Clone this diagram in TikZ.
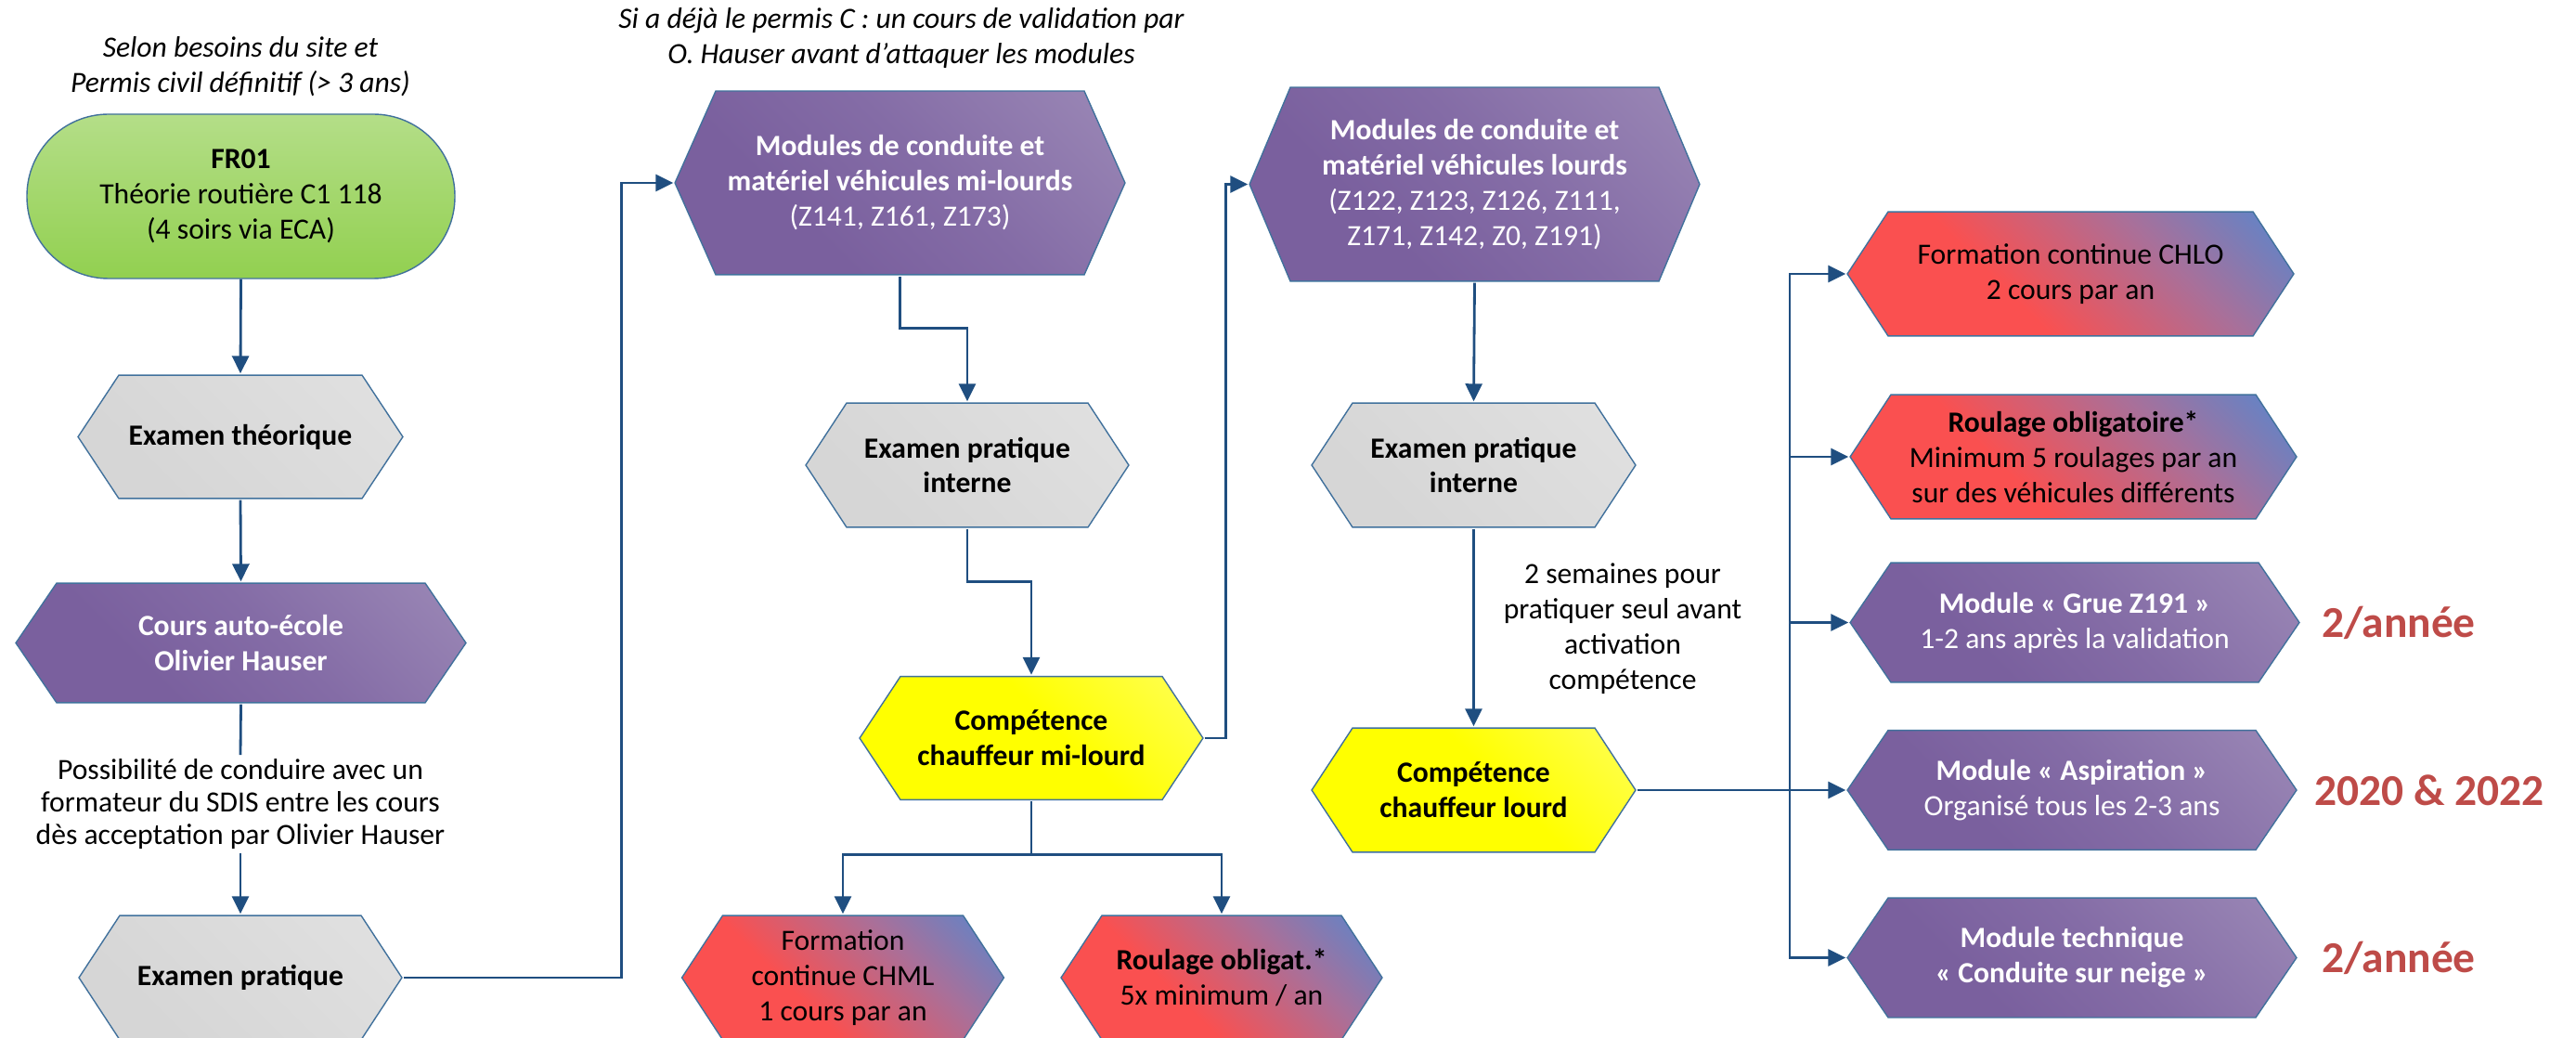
\documentclass[tikz,border=0pt]{standalone}
\usepackage{fontspec}
\setmainfont{Carlito}
\usepackage{tikz}
\usepackage{xcolor}
\usetikzlibrary{arrows.meta, positioning, calc}

\definecolor{linkblue}{HTML}{1F4E80}
\definecolor{edgeblue}{HTML}{41719C}
\definecolor{purL}{HTML}{9B88B6}
\definecolor{purM}{HTML}{846CA6}
\definecolor{purD}{HTML}{7A609E}
\definecolor{rbR}{HTML}{FA5050}
\definecolor{rbM}{HTML}{A8709A}
\definecolor{rbB}{HTML}{5A86CC}
\definecolor{grnT}{HTML}{B4DE88}
\definecolor{grnB}{HTML}{92D050}
\definecolor{yelL}{HTML}{FFFF66}
\definecolor{exgrayL}{HTML}{E0E0E0}
\definecolor{exgray}{HTML}{D6D6D6}
\definecolor{freqred}{HTML}{BE4B48}

\pgfdeclareverticalshading{purpgrad}{100bp}{color(0bp)=(purD); color(35bp)=(purD); color(55bp)=(purM); color(85bp)=(purL); color(100bp)=(purL)}
\pgfdeclareverticalshading{redblue}{100bp}{color(0bp)=(rbR); color(40bp)=(rbR); color(64bp)=(rbM); color(84bp)=(rbB); color(100bp)=(rbB)}
\pgfdeclareverticalshading{yelgrad}{100bp}{color(0bp)=(yellow); color(55bp)=(yellow); color(90bp)=(yelL); color(100bp)=(yelL)}
\pgfdeclareverticalshading{graygrad}{100bp}{color(0bp)=(exgray); color(30bp)=(exgray); color(80bp)=(exgrayL); color(100bp)=(exgrayL)}

\begin{document}
\begin{tikzpicture}[
    txt/.style={font=\fontsize{9}{10.8}\selectfont, align=center},
    notetxt/.style={align=center, font=\fontsize{9}{10.8}\selectfont\itshape},
    freqtxt/.style={anchor=base, text=freqred, font=\fontsize{13.5}{16}\selectfont\bfseries},
    hexfill/.style={},
    hexa/.style={txt, rectangle, inner sep=0pt, minimum height=1.36cm,
      path picture={
        \path[hexfill, draw=edgeblue, line width=0.4pt]
          ([xshift=0.3pt]path picture bounding box.west)
          -- ([xshift=0.45cm,yshift=-0.3pt]path picture bounding box.north west)
          -- ([xshift=-0.45cm,yshift=-0.3pt]path picture bounding box.north east)
          -- ([xshift=-0.3pt]path picture bounding box.east)
          -- ([xshift=-0.45cm,yshift=0.3pt]path picture bounding box.south east)
          -- ([xshift=0.45cm,yshift=0.3pt]path picture bounding box.south west)
          -- cycle;}},
    examhex/.style={hexa, hexfill/.style={shade, shading=graygrad, shading angle=-45}},
    coursehex/.style={hexa, text=white, hexfill/.style={shade, shading=purpgrad, shading angle=-45}},
    comphex/.style={hexa, hexfill/.style={shade, shading=yelgrad, shading angle=-45}},
    contihex/.style={hexa, hexfill/.style={shade, shading=redblue, shading angle=-45}},
    startbox/.style={txt, rectangle, rounded corners=0.88cm, draw=edgeblue, line width=0.4pt,
      top color=grnT, bottom color=grnB, minimum width=4.61cm, minimum height=1.77cm, inner sep=0pt},
    wire/.style={draw=linkblue, line width=0.8pt},
    link/.style={wire, -{Triangle[length=0.19cm, width=0.18cm]}}
  ]
  \useasboundingbox (0,0) rectangle (27.75,-11.18);

  % theorie et auto-ecole
  \node[notetxt] (note1) at (2.59,-0.72) {Selon besoins du site et\\Permis civil définitif (> 3 ans)};
  \node[startbox] (fr01) at (2.595,-2.115) {\textbf{FR01}\\Théorie routière C1 118\\(4 soirs via ECA)};
  \node[examhex, minimum width=3.52cm, minimum height=1.35cm] (exth) at (2.59,-4.705) {\textbf{Examen théorique}};
  \node[coursehex, minimum width=4.87cm, minimum height=1.31cm] (cours) at (2.595,-6.925) {\textbf{Cours auto-école}\\\textbf{Olivier Hauser}};
  \node[txt, font=\fontsize{9}{10}\selectfont, inner sep=1pt] (possib) at (2.59,-8.66) {Possibilité de conduire avec un\\formateur du SDIS entre les cours\\dès acceptation par Olivier Hauser};
  \node[examhex, minimum width=3.5cm] (expr) at (2.59,-10.53) {\textbf{Examen pratique}};

  % mi-lourd
  \node[notetxt] (note2) at (9.71,-0.415) {Si a déjà le permis C : un cours de validation par\\O. Hauser avant d’attaquer les modules};
  \node[coursehex, minimum width=4.87cm, minimum height=2cm] (modml) at (9.695,-1.97) {\textbf{Modules de conduite et}\\\textbf{matériel véhicules mi-lourds}\\(Z141, Z161, Z173)};
  \node[examhex, minimum width=3.5cm] (exi1) at (10.42,-5.01) {\textbf{Examen pratique}\\\textbf{interne}};
  \node[comphex, minimum width=3.72cm, minimum height=1.35cm] (compml) at (11.11,-7.95) {\textbf{Compétence}\\\textbf{chauffeur mi-lourd}};
  \node[contihex, minimum width=3.49cm] (fcml) at (9.08,-10.53) {Formation\\continue CHML\\1 cours par an};
  \node[contihex, minimum width=3.48cm] (roml) at (13.16,-10.53) {\textbf{Roulage obligat.*}\\5x minimum / an};

  % lourd
  \node[coursehex, minimum width=4.87cm, minimum height=2.11cm] (modl) at (15.885,-1.985) {\textbf{Modules de conduite et}\\\textbf{matériel véhicules lourds}\\(Z122, Z123, Z126, Z111,\\Z171, Z142, Z0, Z191)};
  \node[examhex, minimum width=3.51cm] (exi2) at (15.875,-5.01) {\textbf{Examen pratique}\\\textbf{interne}};
  \node[txt] (delai) at (17.48,-6.775) {2 semaines pour\\pratiquer seul avant\\activation\\compétence};
  \node[comphex, minimum width=3.51cm] (compl) at (15.875,-8.51) {\textbf{Compétence}\\\textbf{chauffeur lourd}};

  % formation continue
  \node[contihex, minimum width=4.83cm] (fchlo) at (22.305,-2.95) {Formation continue CHLO\\2 cours par an};
  \node[contihex, minimum width=4.83cm] (rolo) at (22.335,-4.92) {\textbf{Roulage obligatoire*}\\Minimum 5 roulages par an\\sur des véhicules différents};
  \node[coursehex, minimum width=4.86cm, minimum height=1.31cm] (grue) at (22.35,-6.705) {\textbf{Module «~Grue Z191~»}\\1-2 ans après la validation};
  \node[coursehex, minimum width=4.86cm, minimum height=1.31cm] (aspi) at (22.32,-8.51) {\textbf{Module «~Aspiration~»}\\Organisé tous les 2-3 ans};
  \node[coursehex, minimum width=4.86cm, minimum height=1.31cm] (tech) at (22.32,-10.315) {\textbf{Module technique}\\\textbf{«~Conduite sur neige~»}};
  \node[freqtxt] (freq1) at (25.84,-6.87) {2/année};
  \node[freqtxt] (freq2) at (26.17,-8.67) {2020 \& 2022};
  \node[freqtxt] (freq3) at (25.84,-10.47) {2/année};

  % liaisons
  \draw[link] (fr01.south) -- (exth.north);
  \draw[link] (exth.south) -- (cours.north);
  \draw[wire] (cours.south) -- (possib.north);
  \draw[link] (possib.south) -- (expr.north);
  \draw[link] (expr.east) -- ++(2.35,0) |- (modml.west);
  \draw[link] (modml.south) -- ++(0,-0.56) -| (exi1.north);
  \draw[link] (exi1.south) -- ++(0,-0.57) -| (compml.north);
  \draw[link] (compml.east) -- ++(0.23,0) |- (modl.west);
  \draw[link] (compml.south) -- ++(0,-0.57) -| (fcml.north);
  \draw[link] (compml.south) -- ++(0,-0.57) -| (roml.north);
  \draw[link] (modl.south) -- (exi2.north);
  \draw[link] (exi2.south) -- (compl.north);
  \coordinate (hub) at (19.28,-8.51);
  \draw[wire] (compl.east) -- (hub);
  \foreach \n in {fchlo,rolo,grue,aspi,tech}
    \draw[link] (hub) |- (\n.west);
\end{tikzpicture}
\end{document}
